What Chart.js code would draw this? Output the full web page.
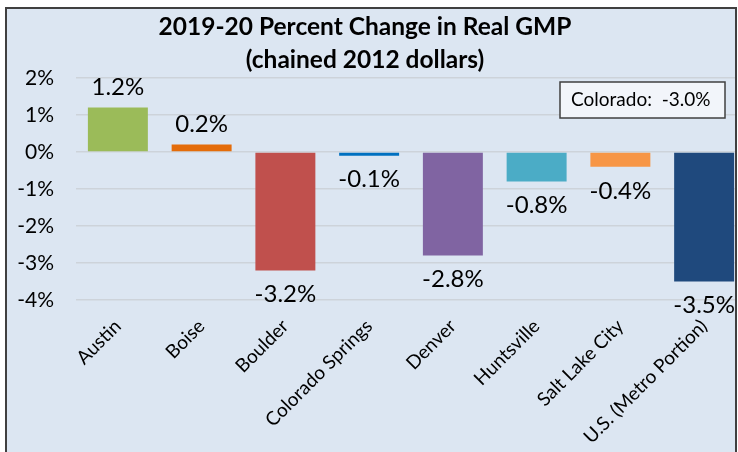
<!DOCTYPE html>
<html>
<head>
<meta charset="utf-8">
<script src="https://cdn.jsdelivr.net/npm/chart.js@4"></script>
<style>
  html, body { margin: 0; padding: 0; background: #fff; overflow: hidden; }
  #frame {
    position: absolute; left: 5px; top: 7px;
    width: 728px; height: 460px;
    border: 2px solid #404040;
    background: #dce6f2;
    overflow: hidden;
  }
  #grafico { position: absolute; left: -7px; top: -9px; }
</style>
</head>
<body>
<div id="frame"><canvas id="grafico" width="750" height="452"></canvas></div>
<script>
// Dados do gráfico
const cidades = ['Austin', 'Boise', 'Boulder', 'Colorado Springs', 'Denver', 'Huntsville', 'Salt Lake City', 'U.S. (Metro Portion)'];
const variacao = [1.2, 0.2, -3.2, -0.1, -2.8, -0.8, -0.4, -3.5];
const cores = ['#9bbb59', '#e46c0a', '#c0504d', '#0070c0', '#8064a2', '#4bacc6', '#f79646', '#1f497d'];
const tituloLinhas = ['2019-20 Percent Change in Real GMP', '(chained 2012 dollars)'];
const notaColorado = 'Colorado:  -3.0%';
const eixoMin = -4, eixoMax = 2;

const fonte = 'Lato, "Open Sans", sans-serif';

// Título, rótulos de valor e a caixa do Colorado
const extras = {
  id: 'extras',
  afterDatasetsDraw(chart) {
    const ctx = chart.ctx;
    ctx.save();
    ctx.fillStyle = '#000';
    ctx.textAlign = 'center';
    ctx.textBaseline = 'middle';
    ctx.font = 'bold 24.5px ' + fonte;
    ctx.fillText(tituloLinhas[0], 365, 27);
    ctx.fillText(tituloLinhas[1], 365, 60);

    ctx.font = '24px ' + fonte;
    const meta = chart.getDatasetMeta(0);
    meta.data.forEach((bar, i) => {
      const v = variacao[i];
      const y = v >= 0 ? bar.y - 20 : bar.y + 24;
      ctx.fillText(v.toFixed(1) + '%', bar.x, y);
    });

    // caixa de nota
    ctx.fillStyle = '#f2f5fa';
    ctx.fillRect(560, 82, 165, 36);
    ctx.strokeStyle = '#404040';
    ctx.lineWidth = 1.5;
    ctx.strokeRect(560, 82, 165, 36);
    ctx.fillStyle = '#000';
    ctx.textAlign = 'left';
    ctx.font = '19px ' + fonte;
    ctx.fillText(notaColorado, 571, 100);
    ctx.restore();
  }
};

new Chart(document.getElementById('grafico'), {
  type: 'bar',
  data: {
    labels: cidades,
    datasets: [{
      data: variacao,
      backgroundColor: cores,
      borderWidth: 0,
      barPercentage: 0.716,
      categoryPercentage: 1
    }]
  },
  options: {
    responsive: false,
    animation: false,
    devicePixelRatio: 1,
    layout: { padding: { top: 78, left: 0, right: 4, bottom: 0 } },
    plugins: { legend: { display: false }, tooltip: { enabled: false } },
    scales: {
      x: {
        grid: { display: false },
        border: { display: false },
        ticks: {
          color: '#000',
          font: { family: fonte, size: 19 },
          maxRotation: 45, minRotation: 45,
          autoSkip: false,
          padding: 7
        },
        afterFit: s => { s.height = 152; }
      },
      y: {
        min: eixoMin, max: eixoMax,
        grid: { color: '#cdd3da', lineWidth: 1.5, drawTicks: false },
        border: { display: false },
        ticks: {
          stepSize: 1,
          color: '#000',
          font: { family: fonte, size: 21 },
          padding: 22,
          callback: v => v + '%'
        },
        afterFit: s => { s.width = 76; }
      }
    }
  },
  plugins: [extras]
});
</script>
</body>
</html>
